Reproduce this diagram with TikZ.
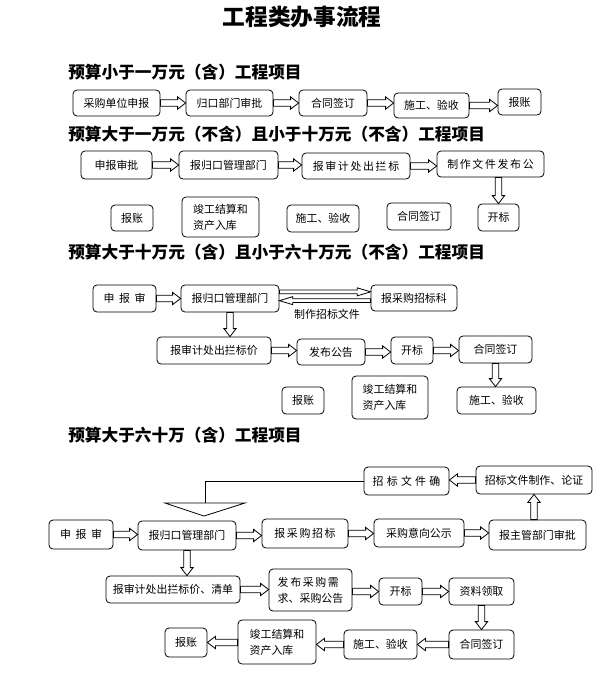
\documentclass[tikz,border=0pt]{standalone}
\usepackage{fontspec}
\setmainfont{Noto Sans CJK SC}
\newfontfamily\spaced[LetterSpace=15]{Noto Sans CJK SC}
\newfontfamily\wider[LetterSpace=30]{Noto Sans CJK SC}
\newfontfamily\widest[LetterSpace=42]{Noto Sans CJK SC}
\usetikzlibrary{calc}

\tikzset{
  box/.style={draw, rounded corners=3pt, line width=0.6pt, inner sep=0pt,
    font=\fontsize{8.2}{12}\selectfont, align=center},
  boxsize/.style 2 args={minimum width=#1*0.75pt, minimum height=#2*0.75pt},
  head/.style={font=\bfseries\fontsize{12.5}{14}\selectfont, anchor=west, inner sep=0pt},
  harrow/.style n args={3}{draw, fill=white, line width=0.6pt,
    to path={let \p1=(\tikztostart), \p2=(\tikztotarget),
      \n1={veclen(\x2-\x1,\y2-\y1)}, \n2={atan2(\y2-\y1,\x2-\x1)} in
      {[shift={(\p1)}, rotate=\n2]
        (0pt,-#1) -- (\n1-#3,-#1) -- (\n1-#3,-#2) -- (\n1,0pt)
        -- (\n1-#3,#2) -- (\n1-#3,#1) -- (0pt,#1) -- cycle}}},
  hollow/.style={harrow={2.5pt}{4.6pt}{6pt}},
  slim/.style={harrow={1.4pt}{3pt}{10pt}},
}

\begin{document}
\begin{tikzpicture}[x=0.75pt,y=-0.75pt]
  \useasboundingbox (0,0) rectangle (613,678);

  \node[font=\bfseries\fontsize{17}{20}\selectfont] (title) at (302,17) {工程类办事流程};

  % up to 10 thousand
  \node[head] (h1) at (68,72) {预算小于一万元（含）工程项目};
  \node[box, boxsize={87}{26}] (s1a) at (116.5,103) {采购单位申报};
  \node[box, boxsize={87}{26}] (s1b) at (229.5,103) {归口部门审批};
  \node[box, boxsize={68}{26}] (s1c) at (333,103)   {合同签订};
  \node[box, boxsize={75}{25}] (s1d) at (431.5,105.5) {施工、验收};
  \node[box, boxsize={43}{26}] (s1e) at (519.5,102) {报账};

  \path (s1a.east) edge[hollow] (s1a.east -| s1b.west)
        (s1b.east) edge[hollow] (s1b.east -| s1c.west)
        (s1c.east) edge[hollow] (s1c.east -| s1d.west)
        (s1d.east) edge[hollow] (s1d.east -| s1e.west);

  % 10 thousand to 100 thousand
  \node[head] (h2) at (68,134) {预算大于一万元（不含）且小于十万元（不含）工程项目};
  \node[box, boxsize={71}{28}]  (s2a) at (116.5,165) {申报审批};
  \node[box, boxsize={99}{28}]  (s2b) at (228.5,165) {报归口管理部门};
  \node[box, boxsize={108}{26}] (s2c) at (356,166)   {\spaced 报审计处出拦标};
  \node[box, boxsize={107}{26}] (s2d) at (490.5,164) {\spaced 制作文件发布公};
  \node[box, boxsize={41}{27}]  (s2e) at (498.5,217.5) {开标};
  \node[box, boxsize={64}{27}]  (s2f) at (419,216.5) {合同签订};
  \node[box, boxsize={72}{27}]  (s2g) at (323,218.5) {施工、验收};
  \node[box, boxsize={77}{40}, align=left] (s2h) at (220.5,217) {竣工结算和\\资产入库};
  \node[box, boxsize={42}{26}]  (s2i) at (132,218)   {报账};

  \path (s2a.east) edge[hollow] (s2a.east -| s2b.west)
        (s2b.east) edge[hollow] (s2b.east -| s2c.west)
        (s2c.east) edge[hollow] (s2c.east -| s2d.west)
        (s2e.north |- s2d.south) edge[hollow] (s2e.north);

  % 100 thousand to 600 thousand
  \node[head] (h3) at (68,252) {预算大于十万元（含）且小于六十万元（不含）工程项目};
  \node[box, boxsize={63}{27}]  (s3a) at (124.5,298.5) {\widest 申报审};
  \node[box, boxsize={98}{27}]  (s3b) at (230,298.5) {报归口管理部门};
  \node[box, boxsize={86}{26}]  (s3c) at (414,298)   {报采购招标科};
  \node[box, boxsize={114}{27}] (s3d) at (214,350.5) {报审计处出拦标价};
  \node[box, boxsize={68}{26}]  (s3e) at (331,352)   {发布公告};
  \node[box, boxsize={42}{27}]  (s3f) at (412,350.5) {开标};
  \node[box, boxsize={73}{27}]  (s3g) at (495.5,349.5) {合同签订};
  \node[box, boxsize={79}{27}]  (s3h) at (496.5,400.5) {施工、验收};
  \node[box, boxsize={76}{43}, align=left] (s3i) at (390,397.5) {竣工结算和\\资产入库};
  \node[box, boxsize={42}{27}]  (s3j) at (303,400.5) {报账};
  \node[font=\fontsize{8.2}{10}\selectfont, inner sep=0pt] (lbl) at (327,314) {制作招标文件};

  \path (s3a.east) edge[hollow] (s3a.east -| s3b.west)
        ([yshift=5pt]s3b.east) edge[slim] ([yshift=5pt]s3b.east -| s3c.west)
        ([yshift=-2pt]s3c.west) edge[slim] ([yshift=-2pt]s3c.west -| s3b.east)
        (s3b.south) edge[hollow] (s3b.south |- s3d.north)
        (s3d.east) edge[hollow] (s3d.east -| s3e.west)
        (s3e.east) edge[hollow] (s3e.east -| s3f.west)
        (s3f.east) edge[hollow] (s3f.east -| s3g.west)
        (s3g.south) edge[hollow] (s3g.south |- s3h.north);

  % over 600 thousand
  \node[head] (h4) at (68,435) {预算大于六十万（含）工程项目};
  \node[box, boxsize={85}{28}]  (s4a) at (406.5,481) {\wider 招标文件确};
  \node[box, boxsize={116}{28}] (s4b) at (534,480)   {招标文件制作、论证};
  \node[box, boxsize={64}{29}]  (s4c) at (81,534.5)  {\widest 申报审};
  \node[box, boxsize={98}{29}]  (s4d) at (187,535.5) {报归口管理部门};
  \node[box, boxsize={86}{29}]  (s4e) at (305,533.5) {\spaced 报采购招标};
  \node[box, boxsize={90}{28}]  (s4f) at (419,533)   {采购意向公示};
  \node[box, boxsize={97}{30}]  (s4g) at (537.5,535) {报主管部门审批};
  \node[box, boxsize={134}{27}] (s4h) at (173,589.5) {报审计处出拦标价、清单};
  \node[box, boxsize={83}{42}, align=left] (s4i) at (310.5,590) {{\spaced 发布采购需}\\求、采购公告};
  \node[box, boxsize={43}{27}]  (s4j) at (400.5,591.5) {开标};
  \node[box, boxsize={65}{27}]  (s4k) at (481.5,591.5) {资料领取};
  \node[box, boxsize={65}{29}]  (s4l) at (481.5,644.5) {合同签订};
  \node[box, boxsize={73}{29}]  (s4m) at (380.5,644.5) {施工、验收};
  \node[box, boxsize={78}{44}, align=left] (s4n) at (277,642) {竣工结算和\\资产入库};
  \node[box, boxsize={42}{29}]  (s4o) at (186,642.5) {报账};
  \coordinate (tri) at (205,503);

  \draw[line width=0.6pt] (s4a.west) -| (tri);
  \draw[line width=0.6pt] (tri) +(-40,0) -- +(40,0) -- +(-1,13) -- cycle;

  \path (s4b.west) edge[hollow] (s4b.west -| s4a.east)
        (s4c.east) edge[hollow] (s4c.east -| s4d.west)
        (s4d.east) edge[hollow] (s4d.east -| s4e.west)
        (s4e.east) edge[hollow] (s4e.east -| s4f.west)
        (s4f.east) edge[hollow] (s4f.east -| s4g.west)
        (s4b.south |- s4g.north) edge[hollow] (s4b.south)
        (s4d.south) edge[hollow] (s4d.south |- s4h.north)
        (s4h.east) edge[hollow] (s4h.east -| s4i.west)
        (s4i.east |- s4j.east) edge[hollow] (s4j.west)
        (s4j.east) edge[hollow] (s4j.east -| s4k.west)
        (s4k.south) edge[hollow] (s4l.north)
        (s4l.west) edge[hollow] (s4l.west -| s4m.east)
        (s4m.west) edge[hollow] (s4m.west -| s4n.east)
        (s4n.west |- s4o.east) edge[hollow] (s4o.east);
\end{tikzpicture}
\end{document}
